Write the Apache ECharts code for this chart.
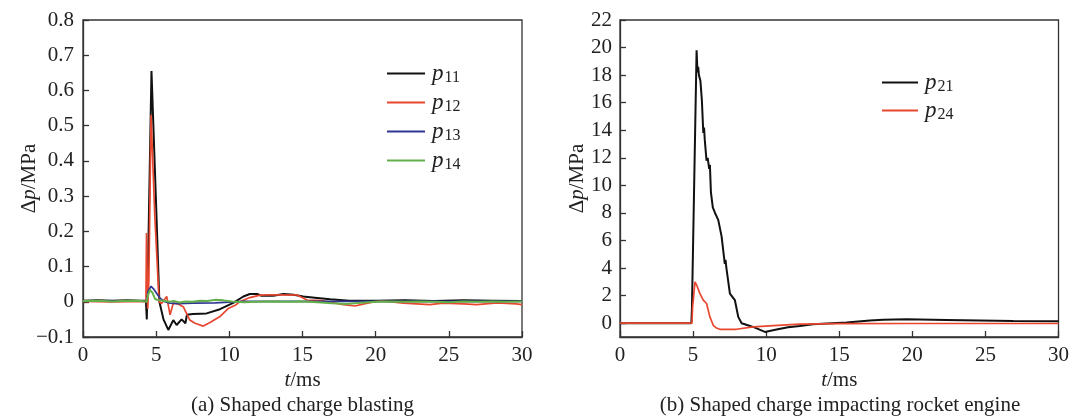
<!DOCTYPE html>
<html>
<head>
<meta charset="utf-8">
<script src="https://cdn.jsdelivr.net/npm/echarts@6/dist/echarts.min.js"></script>
<style>html,body{margin:0;padding:0;background:#fff}#c{width:1072px;height:419px}</style>
</head>
<body>
<div id="c"></div>
<script>
// ---- Data (a) Shaped charge blasting ----
const p11_t = [0, 1, 2, 3, 4, 4.3, 4.36, 4.45, 4.68, 4.95, 5.22, 5.5, 5.83, 6.17, 6.4, 6.74, 7.0, 7.1, 7.5, 8.45, 9.36, 10.27, 10.96, 11.4, 11.9, 12.2, 13.0, 13.7, 14.4, 15.05, 16.0, 16.9, 18.2, 20, 22, 24, 26, 28, 30];
const p11_v = [0.003, 0.004, 0.003, 0.004, 0.003, 0.003, -0.05, 0.12, 0.655, 0.33, 0.0, -0.05, -0.08, -0.052, -0.066, -0.05, -0.061, -0.037, -0.035, -0.033, -0.021, -0.003, 0.015, 0.022, 0.022, 0.017, 0.017, 0.022, 0.02, 0.015, 0.011, 0.007, 0.003, 0.003, 0.004, 0.002, 0.004, 0.003, 0.002];

const p12_t = [0, 2, 4, 4.3, 4.34, 4.37, 4.42, 4.5, 4.65, 4.9, 5.2, 5.37, 5.72, 5.95, 6.17, 6.5, 6.85, 7.3, 7.65, 8.22, 8.68, 9.36, 9.93, 10.4, 10.7, 11.4, 12.1, 13.0, 14.15, 14.6, 15.3, 16.4, 17.8, 18.6, 19.2, 20.3, 21.9, 23.7, 24.6, 26.0, 26.9, 28.3, 29.6, 30];
const p12_v = [0.001, 0.0, 0.001, 0.0, 0.195, 0.19, -0.02, 0.06, 0.53, 0.25, 0.0, -0.005, 0.015, -0.037, -0.004, -0.006, -0.014, -0.052, -0.061, -0.069, -0.059, -0.042, -0.019, -0.01, 0.0, 0.012, 0.019, 0.02, 0.019, 0.02, 0.005, 0.003, -0.008, -0.012, -0.006, 0.003, -0.004, -0.008, -0.004, -0.006, -0.008, -0.003, -0.006, -0.008];

const p13_t = [0, 2, 4, 4.35, 4.45, 4.65, 4.85, 5.26, 5.6, 5.95, 6.5, 7.5, 9, 10, 11, 13, 15, 20, 25, 30];
const p13_v = [0.002, 0.002, 0.002, 0.002, 0.03, 0.044, 0.035, 0.01, 0.0, -0.004, -0.005, -0.004, -0.003, -0.001, 0.001, 0.001, 0.001, 0.001, 0.001, 0.001];

const p14_t = [0, 1, 2, 3, 4, 4.35, 4.45, 4.58, 4.75, 4.92, 5.2, 5.5, 5.9, 6.2, 6.6, 7.0, 7.5, 8.0, 8.5, 9.1, 9.6, 10.2, 11, 12, 13, 14, 15, 16, 17, 18, 19, 20, 21, 22, 23, 24, 25, 26, 27, 28, 29, 30];
const p14_v = [0.002, 0.003, 0.001, 0.003, 0.002, 0.0, 0.02, 0.034, 0.025, 0.008, 0.004, 0.003, 0.0, 0.002, -0.002, 0.001, 0.0, 0.003, 0.002, 0.006, 0.004, 0.001, -0.001, 0.0, 0.001, 0.0, 0.001, -0.001, -0.004, -0.006, -0.003, 0.0, 0.001, 0.0, 0.001, 0.0, -0.001, 0.001, 0.0, 0.001, 0.0, 0.001];

// ---- Data (b) Shaped charge impacting rocket engine ----
const p21_t = [0, 2, 4, 4.88, 4.92, 5.24, 5.3, 5.35, 5.4, 5.5, 5.6, 5.7, 5.75, 5.8, 5.92, 6.0, 6.1, 6.15, 6.22, 6.35, 6.5, 6.72, 6.95, 7.17, 7.22, 7.28, 7.52, 7.86, 8.09, 8.32, 9.11, 9.91, 10.71, 11.5, 12.3, 13.2, 14.5, 15.5, 17.1, 18.0, 19.6, 22.3, 24.6, 26.9, 29.9, 30];
const p21_v = [0, 0, 0, 0, 1.0, 19.8, 18.2, 18.6, 18.0, 17.6, 16.2, 13.8, 14.2, 13.3, 11.8, 12.0, 11.2, 11.5, 9.5, 8.4, 8.0, 7.5, 6.3, 4.3, 4.6, 4.0, 2.15, 1.67, 0.46, 0.0, -0.27, -0.63, -0.45, -0.3, -0.2, -0.07, 0.0, 0.05, 0.2, 0.25, 0.28, 0.24, 0.2, 0.16, 0.15, 0.15];

const p24_t = [0, 2, 4, 4.92, 4.97, 5.13, 5.25, 5.35, 5.47, 5.7, 5.92, 6.15, 6.38, 6.6, 6.83, 7.97, 9.1, 10.5, 12.3, 15, 20, 25, 30];
const p24_v = [0, 0, 0, 0, 1.2, 3.0, 2.75, 2.7, 2.15, 1.67, 1.43, 0.46, -0.15, -0.35, -0.44, -0.44, -0.27, -0.18, -0.07, -0.03, -0.02, -0.02, -0.02];

const yTicksB = [0, 2, 4, 6, 8, 10, 12, 14, 16, 18, 20, 22];

const zip = (t, v) => t.map((x, i) => [x, v[i]]);

const FONT = 'Liberation Serif';
const AX = '#333';
const TXT = '#222';

function xAxisOpt(gi) {
  return {
    type: 'value', gridIndex: gi, min: 0, max: 30, interval: 5,
    axisLine: { show: true, onZero: false, lineStyle: { color: AX, width: 1.3 } },
    axisTick: { inside: true, length: 6, lineStyle: { color: AX, width: 1.3 } },
    splitLine: { show: false },
    axisLabel: { margin: 8, color: TXT, fontSize: 21, fontFamily: FONT },
    name: '{i|t}/ms', nameLocation: 'middle', nameGap: 33, nameMoveOverlap: false,
    nameTextStyle: { color: TXT, fontSize: 21, fontFamily: FONT,
      rich: { i: { fontStyle: 'italic', fontSize: 21, fontFamily: FONT, color: TXT } } }
  };
}

const legendRich = {
  i: { fontStyle: 'italic', fontSize: 23, fontFamily: FONT, color: TXT, lineHeight: 24 },
  s: { fontSize: 16, fontFamily: FONT, color: TXT, lineHeight: 24, padding: [9, 0, 0, 1] }
};
const legendFmt = name => '{i|p}{s|' + name.slice(1) + '}';

const seriesBase = { type: 'line', showSymbol: false, symbol: 'none', animation: false };

const option = {
  animation: false,
  grid: [
    { left: 83, top: 20, width: 439, height: 317, show: true, borderColor: AX, borderWidth: 1.3, backgroundColor: 'transparent' },
    { left: 620, top: 20, width: 439, height: 317, show: true, borderColor: AX, borderWidth: 1.3, backgroundColor: 'transparent' }
  ],
  xAxis: [xAxisOpt(0), xAxisOpt(1)],
  yAxis: [
    {
      type: 'value', gridIndex: 0, min: -0.1, max: 0.8, interval: 0.1,
      axisLine: { show: true, onZero: false, lineStyle: { color: AX, width: 1.3 } },
      axisTick: { inside: true, length: 6, lineStyle: { color: AX, width: 1.3 } },
      splitLine: { show: false },
      axisLabel: { margin: 9, color: TXT, fontSize: 21, fontFamily: FONT,
        formatter: v => Math.abs(v) < 1e-9 ? '0' : (v < 0 ? '\u2212' + Math.abs(v).toFixed(1) : v.toFixed(1)) },
      name: '\u0394{i|p}/MPa', nameLocation: 'middle', nameRotate: 90, nameGap: 43, nameMoveOverlap: false,
      nameTextStyle: { color: TXT, fontSize: 21, fontFamily: FONT,
        rich: { i: { fontStyle: 'italic', fontSize: 21, fontFamily: FONT, color: TXT } } }
    },
    {
      type: 'value', gridIndex: 1, min: -1, max: 22, interval: 1,
      axisLine: { show: true, onZero: false, lineStyle: { color: AX, width: 1.3 } },
      axisTick: { inside: true, length: 6, lineStyle: { color: AX, width: 1.3 }, customValues: yTicksB },
      splitLine: { show: false },
      axisLabel: { margin: 8, color: TXT, fontSize: 21, fontFamily: FONT, customValues: yTicksB },
      name: '\u0394{i|p}/MPa', nameLocation: 'middle', nameRotate: 90, nameGap: 32, nameMoveOverlap: false,
      nameTextStyle: { color: TXT, fontSize: 21, fontFamily: FONT,
        rich: { i: { fontStyle: 'italic', fontSize: 21, fontFamily: FONT, color: TXT } } }
    }
  ],
  legend: [
    {
      data: ['p11', 'p12', 'p13', 'p14'], orient: 'vertical', left: 382, top: 56,
      icon: 'rect', itemWidth: 38, itemHeight: 2, itemGap: 4,
      formatter: legendFmt, textStyle: { rich: legendRich, padding: [0, 0, 0, 2] }
    },
    {
      data: ['p21', 'p24'], orient: 'vertical', left: 877, top: 65,
      icon: 'rect', itemWidth: 36, itemHeight: 2, itemGap: 3,
      formatter: legendFmt, textStyle: { rich: legendRich, padding: [0, 0, 0, 2] }
    }
  ],
  graphic: [
    { type: 'text', x: 302.5, y: 405, style: { text: '(a) Shaped charge blasting', textAlign: 'center', textVerticalAlign: 'middle', fontSize: 21, fontFamily: FONT, fill: TXT } },
    { type: 'text', x: 840, y: 405, style: { text: '(b) Shaped charge impacting rocket engine', textAlign: 'center', textVerticalAlign: 'middle', fontSize: 21, fontFamily: FONT, fill: TXT } }
  ],
  series: [
    Object.assign({}, seriesBase, { name: 'p11', xAxisIndex: 0, yAxisIndex: 0, data: zip(p11_t, p11_v), color: '#111111', lineStyle: { width: 2, color: '#111111' } }),
    Object.assign({}, seriesBase, { name: 'p12', xAxisIndex: 0, yAxisIndex: 0, data: zip(p12_t, p12_v), color: '#e8472f', lineStyle: { width: 1.7, color: '#e8472f' } }),
    Object.assign({}, seriesBase, { name: 'p13', xAxisIndex: 0, yAxisIndex: 0, data: zip(p13_t, p13_v), color: '#2d3691', lineStyle: { width: 1.7, color: '#2d3691' } }),
    Object.assign({}, seriesBase, { name: 'p14', xAxisIndex: 0, yAxisIndex: 0, data: zip(p14_t, p14_v), color: '#63b04a', lineStyle: { width: 2, color: '#63b04a' } }),
    Object.assign({}, seriesBase, { name: 'p21', xAxisIndex: 1, yAxisIndex: 1, data: zip(p21_t, p21_v), color: '#111111', lineStyle: { width: 2, color: '#111111' } }),
    Object.assign({}, seriesBase, { name: 'p24', xAxisIndex: 1, yAxisIndex: 1, data: zip(p24_t, p24_v), color: '#e8472f', lineStyle: { width: 1.7, color: '#e8472f' } })
  ]
};

const chart = echarts.init(document.getElementById('c'), null, { renderer: 'canvas' });
chart.setOption(option);
</script>
</body>
</html>
